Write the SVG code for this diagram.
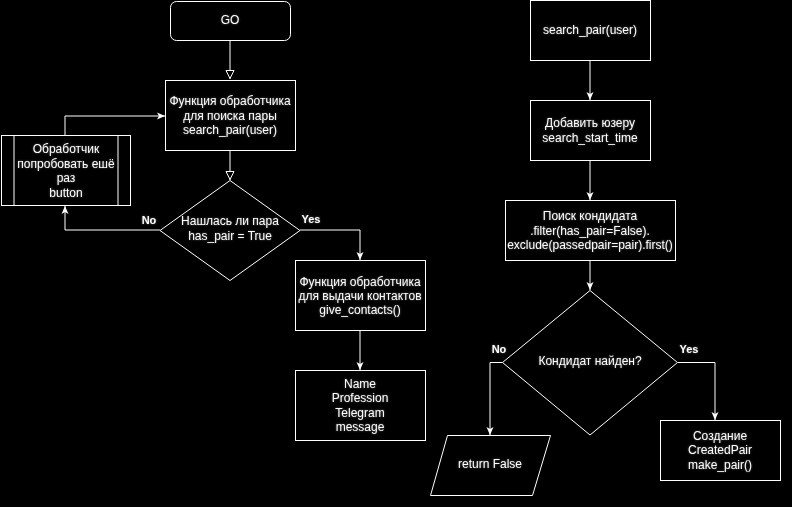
<svg xmlns="http://www.w3.org/2000/svg" width="792" height="507" viewBox="0 0 792 507">
<style>
.bg{fill:#000}
.n{fill:#000;stroke:#fff;stroke-width:1}
.e{fill:none;stroke:#fff;stroke-width:1}
text{font-family:"Liberation Sans",Arial,sans-serif;font-size:12px;fill:#fff;text-anchor:middle;filter:url(#glow)}
.lbl{font-weight:bold;font-size:11px}
</style>
<defs>
<filter id="glow" x="-10%" y="-30%" width="120%" height="160%">
<feGaussianBlur in="SourceAlpha" stdDeviation="0.8" result="b"/>
<feFlood flood-color="#ffffff" flood-opacity="0.35"/>
<feComposite in2="b" operator="in" result="g"/>
<feMerge><feMergeNode in="g"/><feMergeNode in="SourceGraphic"/></feMerge>
</filter>
<marker id="af" markerUnits="userSpaceOnUse" viewBox="0 0 8 8" refX="8" refY="4" markerWidth="8" markerHeight="8" orient="auto">
<path d="M0,0.5 L8,4 L0,7.5 L2,4 Z" fill="#fff"/>
</marker>
<marker id="ah" markerUnits="userSpaceOnUse" viewBox="-1 -1 11 11" refX="8.5" refY="4" markerWidth="11" markerHeight="11" orient="auto">
<path d="M0,0 L8,4 L0,8 Z" fill="#000" stroke="#fff" stroke-width="1"/>
</marker>
</defs>
<rect class="bg" x="0" y="0" width="792" height="507"/>
<g id="connectors">
<path class="e" d="M230,40 L230,79" marker-end="url(#ah)"/>
<path class="e" d="M230,150 L230,180" marker-end="url(#ah)"/>
<path class="e" d="M160,230 L65,230 L65,206" marker-end="url(#af)"/>
<path class="e" d="M65,135 L65,116 L165,116" marker-end="url(#af)"/>
<path class="e" d="M300,230 L360,230 L360,260" marker-end="url(#af)"/>
<path class="e" d="M360,330 L360,370" marker-end="url(#af)"/>
<path class="e" d="M590,60 L590,100" marker-end="url(#af)"/>
<path class="e" d="M590,160 L590,200" marker-end="url(#af)"/>
<path class="e" d="M590,260 L590,290" marker-end="url(#af)"/>
<path class="e" d="M502.5,362.5 L490,362.5 L490,435" marker-end="url(#af)"/>
<path class="e" d="M677.5,362.5 L715,362.5 L715,420" marker-end="url(#af)"/>
<text class="lbl" x="149" y="224">No</text>
<text class="lbl" x="311" y="223">Yes</text>
<text class="lbl" x="499" y="353">No</text>
<text class="lbl" x="689" y="353">Yes</text>
</g>
<g id="go">
<rect class="n" x="170.5" y="1.5" width="120" height="39" rx="6"/>
<text x="230" y="24">GO</text>
</g>
<g id="search_handler">
<rect class="n" x="165.5" y="80.5" width="130" height="70"/>
<text x="230" y="105">Функция обработчика</text>
<text x="230" y="119.5">для поиска пары</text>
<text x="230" y="134">search_pair(user)</text>
</g>
<g id="retry_button">
<rect class="n" x="1.5" y="135.5" width="129" height="70"/>
<line class="e" x1="14" y1="135.5" x2="14" y2="205.5"/>
<line class="e" x1="118" y1="135.5" x2="118" y2="205.5"/>
<text x="66" y="153">Обработчик</text>
<text x="66" y="167.5">попробовать ешё</text>
<text x="66" y="182">раз</text>
<text x="66" y="196.5">button</text>
</g>
<g id="has_pair">
<path class="n" d="M230,180.5 L300,230.5 L230,280.5 L160,230.5 Z"/>
<text x="230" y="225">Нашлась ли пара</text>
<text x="230" y="240">has_pair = True</text>
</g>
<g id="give_contacts">
<rect class="n" x="295.5" y="260.5" width="130" height="70"/>
<text x="360" y="286">Функция обработчика</text>
<text x="360" y="300">для выдачи контактов</text>
<text x="360" y="314">give_contacts()</text>
</g>
<g id="contacts">
<rect class="n" x="295.5" y="370.5" width="130" height="70"/>
<text x="360" y="388">Name</text>
<text x="360" y="402">Profession</text>
<text x="360" y="416.5">Telegram</text>
<text x="360" y="430.5">message</text>
</g>
<g id="search_pair">
<rect class="n" x="530.5" y="0.5" width="120" height="60"/>
<text x="590" y="34">search_pair(user)</text>
</g>
<g id="add_time">
<rect class="n" x="530.5" y="100.5" width="120" height="60"/>
<text x="590" y="127">Добавить юзеру</text>
<text x="590" y="141.5">search_start_time</text>
</g>
<g id="find_candidate">
<rect class="n" x="505.5" y="200.5" width="170" height="60"/>
<text x="590" y="220">Поиск кондидата</text>
<text x="590" y="234.5">.filter(has_pair=False).</text>
<text x="590" y="249">exclude(passedpair=pair).first()</text>
</g>
<g id="candidate_found">
<path class="n" d="M590,290.5 L677.5,362.5 L590,435 L502.5,362.5 Z"/>
<text x="590" y="365">Кондидат найден?</text>
</g>
<g id="return_false">
<path class="n" d="M447.5,435.5 L550.5,435.5 L532.5,495.5 L430.5,495.5 Z"/>
<text x="490" y="468">return False</text>
</g>
<g id="make_pair">
<rect class="n" x="660.5" y="420.5" width="120" height="60"/>
<text x="720" y="440">Создание</text>
<text x="720" y="454">CreatedPair</text>
<text x="720" y="468.5">make_pair()</text>
</g>
</svg>
